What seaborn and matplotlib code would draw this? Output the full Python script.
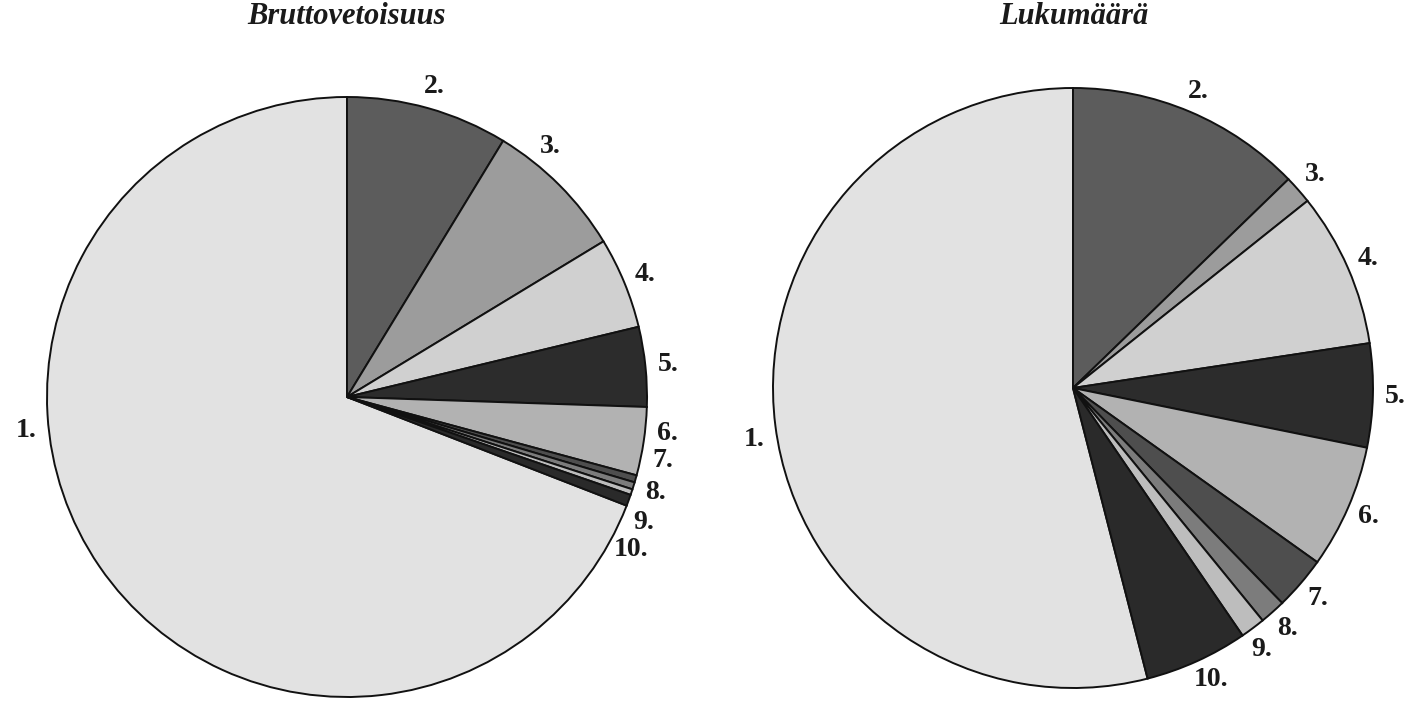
import numpy as np
import pandas as pd
import matplotlib
matplotlib.use("Agg")
import matplotlib.pyplot as plt
import seaborn as sns

# ---- data (percent shares) ----
categories = ["1.", "2.", "3.", "4.", "5.", "6.", "7.", "8.", "9.", "10."]
brutto_share = [69.4, 8.75, 7.64, 4.94, 4.31, 3.69, 0.39, 0.39, 0.31, 0.61]
lukumaara_share = [54.0, 12.75, 1.53, 8.33, 5.58, 6.67, 2.86, 1.39, 1.33, 5.56]
titles = ["Bruttovetoisuus", "Lukumäärä"]

# fill shades (grey levels of the printed stipple)
shades = ["#e2e2e2", "#5c5c5c", "#9c9c9c", "#d0d0d0", "#2c2c2c",
          "#b2b2b2", "#4e4e4e", "#7c7c7c", "#bdbdbd", "#2a2a2a"]

# label angle tweaks (degrees, counter-clockwise) where the original spreads labels
label_shift_left = [-28.5, 0, 6, 0, 0, 2, 4.5, 0, -4.5, -8]
label_shift_right = [2, 0, 0, 0, 0, 0, 0, 0, -1, 1]

df = pd.DataFrame({"cat": categories, "brutto": brutto_share,
                   "lukumaara": lukumaara_share})

sns.set_style("white")
plt.rcParams["font.family"] = ["Liberation Serif", "DejaVu Serif"]

W, H = 1405, 703
fig = plt.figure(figsize=(W / 100, H / 100), dpi=100)

def draw(ax, values, shifts, title, tx):
    vals = np.asarray(values, dtype=float)
    first = vals[0] / vals.sum() * 360.0
    wedges, _ = ax.pie(vals, colors=shades, startangle=90 + first,
                       counterclock=False,
                       wedgeprops=dict(edgecolor="#111111", linewidth=1.4))
    for w, lab, sh in zip(wedges, df["cat"], shifts):
        mid = np.deg2rad((w.theta1 + w.theta2) / 2 + sh)
        ax.text(1.075 * np.cos(mid), 1.075 * np.sin(mid), lab,
                ha="center", va="center", fontsize=20, fontweight="bold",
                color="#1a1a1a")
    ax.set_xlim(-1, 1)
    ax.set_ylim(-1, 1)
    ax.set_aspect("equal")
    ax.axis("off")
    fig.text(tx, 1 - 17 / H, title, ha="center", va="center",
             fontsize=22, fontweight="bold", fontstyle="italic",
             color="#1a1a1a")

r = 300
axL = fig.add_axes([(347 - r) / W, (H - 397 - r) / H, 2 * r / W, 2 * r / H])
axR = fig.add_axes([(1073 - r) / W, (H - 388 - r) / H, 2 * r / W, 2 * r / H])

draw(axL, df["brutto"], label_shift_left, titles[0], 347 / W)
draw(axR, df["lukumaara"], label_shift_right, titles[1], 1074 / W)

fig.savefig("out.png", dpi=100)
